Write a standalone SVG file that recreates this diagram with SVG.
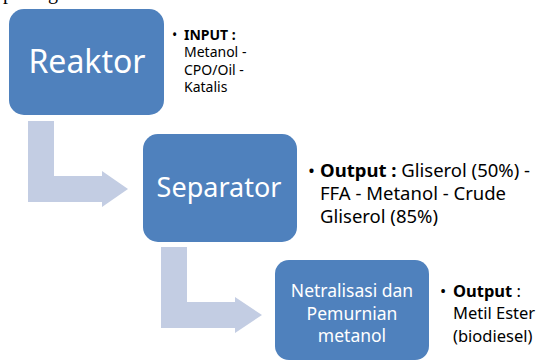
<svg xmlns="http://www.w3.org/2000/svg" width="536" height="361" viewBox="0 0 536 361">
<style>
.box{fill:#4F81BD;}
.arrow{fill:#C3CDE3;}
.bt{font-family:"Noto Sans","Open Sans",sans-serif;fill:#FFFFFF;text-anchor:middle;}
.lt{font-family:"Noto Sans","Open Sans",sans-serif;fill:#000000;}
.b{font-weight:bold;}
.top{font-family:"Liberation Serif",serif;font-size:20px;fill:#000000;}
</style>
<rect width="536" height="361" fill="#FFFFFF"/>
<g id="heading-fragment">
<text class="top" x="3" y="-1">p</text>
<text class="top" x="48" y="-1">g</text>
</g>
<g id="connectors">
<path class="arrow" d="M28,121 H54 V176 H102 V171 L128,189 L102,207 V202 H28 Z"/>
<path class="arrow" d="M161,247 H187 V302 H235 V297 L262,315 L235,333 V328 H161 Z"/>
</g>
<g id="reaktor">
<rect class="box" x="9" y="9" width="155" height="106" rx="15" ry="15"/>
<text class="bt" x="87" y="73" font-size="32">Reaktor</text>
</g>
<g id="reaktor-note">
<text class="lt" x="172" y="39.5" font-size="14">•</text>
<text class="lt b" x="184" y="39.5" font-size="14">INPUT :</text>
<text class="lt" x="184" y="57" font-size="14">Metanol -</text>
<text class="lt" x="184" y="74.5" font-size="14">CPO/Oil -</text>
<text class="lt" x="184" y="92" font-size="14">Katalis</text>
</g>
<g id="separator">
<rect class="box" x="143" y="134" width="154" height="108" rx="15" ry="15"/>
<text class="bt" x="219" y="197" font-size="27">Separator</text>
</g>
<g id="separator-note">
<text class="lt" x="308" y="177" font-size="18.5">•</text>
<text class="lt" x="320" y="177" font-size="18.5"><tspan class="b">Output :</tspan> Gliserol (50%) -</text>
<text class="lt" x="320" y="200" font-size="18.5">FFA - Metanol - Crude</text>
<text class="lt" x="320" y="222.5" font-size="18.5">Gliserol (85%)</text>
</g>
<g id="netralisasi">
<rect class="box" x="275" y="260" width="154" height="100" rx="14" ry="14"/>
<text class="bt" x="352" y="297" font-size="17.5">Netralisasi dan</text>
<text class="bt" x="352" y="319.5" font-size="17.5">Pemurnian</text>
<text class="bt" x="352" y="342" font-size="17.5">metanol</text>
</g>
<g id="netralisasi-note">
<text class="lt" x="440" y="297" font-size="16.5">•</text>
<text class="lt" x="453" y="297" font-size="16.5"><tspan class="b">Output</tspan> :</text>
<text class="lt" x="453" y="319" font-size="16.5">Metil Ester</text>
<text class="lt" x="453" y="342" font-size="16.5">(biodiesel)</text>
</g>
</svg>
